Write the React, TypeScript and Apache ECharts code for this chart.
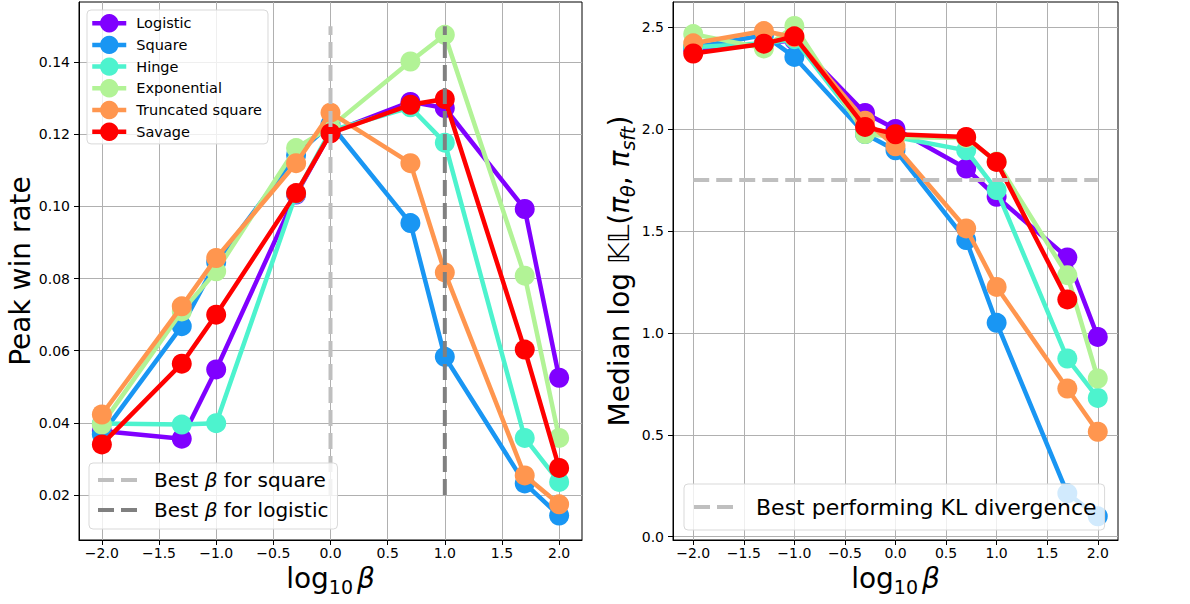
import React, { useEffect, useRef } from "react";
import * as echarts from "echarts";

const FONT = "DejaVu Sans";

// log10(beta) for beta = 0.01, 0.05, 0.1, 0.5, 1, 5, 10, 50, 100
const logBeta = [-2, -1.301, -1, -0.301, 0, 0.699, 1, 1.699, 2];

const seriesNames = ["Logistic", "Square", "Hinge", "Exponential", "Truncated square", "Savage"];
const seriesColors = ["#8000ff", "#1996f3", "#4df3ce", "#b2f396", "#ff964f", "#ff0000"];

// Peak win rate (left panel)
const winLogistic = [0.0377, 0.0356, 0.0548, 0.1033, 0.1205, 0.129, 0.1273, 0.0993, 0.0525];
const winSquare = [0.0368, 0.0668, 0.0845, 0.1143, 0.1228, 0.0954, 0.0583, 0.0232, 0.0143];
const winHinge = [0.0398, 0.0395, 0.0399, 0.1035, 0.121, 0.1275, 0.1177, 0.0358, 0.0236];
const winExponential = [0.0395, 0.0709, 0.082, 0.1162, 0.122, 0.1402, 0.1476, 0.0808, 0.0358];
const winTruncated = [0.0423, 0.0723, 0.0857, 0.112, 0.126, 0.112, 0.0817, 0.0254, 0.0174];
const winSavage = [0.034, 0.0564, 0.07, 0.1037, 0.1203, 0.1282, 0.1298, 0.0603, 0.0275];

// Median log KL (right panel)
const klLogistic = [2.39, 2.42, 2.435, 2.078, 2.0, 1.806, 1.667, 1.37, 0.98];
const klSquare = [2.4, 2.46, 2.353, 1.975, 1.895, 1.455, 1.049, 0.213, 0.1];
const klHinge = [2.4, 2.42, 2.44, 1.99, 1.96, 1.895, 1.7, 0.874, 0.681];
const klExponential = [2.465, 2.395, 2.505, 1.975, 1.96, 1.955, 1.84, 1.283, 0.776];
const klTruncated = [2.42, 2.48, 2.45, 2.04, 1.915, 1.512, 1.225, 0.727, 0.515];
const klSavage = [2.37, 2.418, 2.454, 2.01, 1.974, 1.961, 1.838, 1.164, null];

const winSeries = [winLogistic, winSquare, winHinge, winExponential, winTruncated, winSavage];
const klSeries = [klLogistic, klSquare, klHinge, klExponential, klTruncated, klSavage];

// reference lines
const bestBetaSquare = 0;
const bestBetaLogistic = 1;
const vlineRange = [0.02, 0.15];
const bestKL = 1.75;
const hlineRange = [-2, 2];

// ticks
const xTicks = [-2, -1.5, -1, -0.5, 0, 0.5, 1, 1.5, 2];
const winTicks = [0.02, 0.04, 0.06, 0.08, 0.1, 0.12, 0.14];
const klTicks = [0, 0.5, 1, 1.5, 2, 2.5];

const fmt = (v: number, d: number) => (v < 0 ? "\u2212" + Math.abs(v).toFixed(d) : v.toFixed(d));

export default function App() {
  const ref = useRef<HTMLDivElement>(null);

  useEffect(() => {
    if (!ref.current) return;
    const chart = echarts.init(ref.current, null, { renderer: "svg" });

    const axisCommon = {
      axisLine: { show: true, onZero: false, lineStyle: { color: "#000", width: 1 } },
      axisTick: { show: true, length: 5, inside: false, lineStyle: { color: "#000", width: 1 } },
      splitLine: { show: true, lineStyle: { color: "#b0b0b0", width: 1 } },
    };

    const xName = {
      name: "{a|log}{s|10}{b|β}",
      nameLocation: "middle",
      nameGap: 20,
      nameTextStyle: {
        color: "#000",
        fontFamily: FONT,
        rich: {
          a: { fontSize: 28, lineHeight: 36, fontFamily: FONT, color: "#000" },
          s: { fontSize: 19, lineHeight: 14, verticalAlign: "bottom", fontFamily: FONT, color: "#000" },
          b: { fontSize: 28, lineHeight: 36, fontStyle: "italic", fontFamily: FONT, color: "#000", padding: [0, 0, 0, 4] },
        },
      },
    };

    const makeX = (gridIndex: number) => ({
      type: "value",
      gridIndex,
      min: -2.2,
      max: 2.2,
      ...axisCommon,
      axisTick: { ...axisCommon.axisTick, customValues: xTicks },
      axisLabel: {
        customValues: xTicks,
        formatter: (v: number) => fmt(v, 1),
        fontSize: 14,
        fontFamily: FONT,
        color: "#000",
        margin: 6,
      },
      ...xName,
    });

    const lineSeries = (vals: (number | null)[], i: number, gi: number) => ({
      type: "line",
      name: seriesNames[i],
      xAxisIndex: gi,
      yAxisIndex: gi,
      data: logBeta
        .map((x, k) => (vals[k] == null ? null : [x, vals[k]]))
        .filter((p) => p !== null),
      symbol: "circle",
      symbolSize: 20,
      z: 2 + i,
      lineStyle: { width: 4.5, color: seriesColors[i] },
      itemStyle: { color: seriesColors[i] },
      emphasis: { disabled: true },
      silent: true,
    });

    const dashSeries = (name: string, color: string, gi: number, data: number[][]) => ({
      type: "line",
      name,
      xAxisIndex: gi,
      yAxisIndex: gi,
      data,
      symbol: "none",
      z: 15,
      lineStyle: { width: 4, color, type: [16, 7] },
      itemStyle: { color: "rgba(0,0,0,0)" },
      emphasis: { disabled: true },
      silent: true,
    });

    const legendBox = {
      backgroundColor: "rgba(255,255,255,0.8)",
      borderColor: "#d9d9d9",
      borderWidth: 1,
      borderRadius: 4,
      orient: "vertical",
      selectedMode: false,
      z: 30,
    };

    const option = {
      animation: false,
      backgroundColor: "#fff",
      grid: [
        { left: 79, top: 2, width: 503, height: 538, show: true, borderColor: "#000", borderWidth: 1, containLabel: false, outerBoundsMode: "none" },
        { left: 673, top: 2, width: 445, height: 538, show: true, borderColor: "#000", borderWidth: 1, containLabel: false, outerBoundsMode: "none" },
      ],
      xAxis: [makeX(0), makeX(1)],
      yAxis: [
        {
          type: "value",
          gridIndex: 0,
          min: 0.0075,
          max: 0.1567,
          ...axisCommon,
          axisTick: { ...axisCommon.axisTick, customValues: winTicks },
          axisLabel: {
            customValues: winTicks,
            formatter: (v: number) => fmt(v, 2),
            fontSize: 14,
            fontFamily: FONT,
            color: "#000",
            margin: 9,
          },
          name: "Peak win rate",
          nameLocation: "middle",
          nameRotate: 90,
          nameGap: 44,
          nameTextStyle: { fontSize: 28, fontFamily: FONT, color: "#000" },
        },
        {
          type: "value",
          gridIndex: 1,
          min: -0.016,
          max: 2.6225,
          ...axisCommon,
          axisTick: { ...axisCommon.axisTick, customValues: klTicks },
          axisLabel: {
            customValues: klTicks,
            formatter: (v: number) => fmt(v, 1),
            fontSize: 14,
            fontFamily: FONT,
            color: "#000",
            margin: 9,
          },
          name: "{a|Median log }{k|𝕂𝕃}{a|(}{c|π}{s|θ}{a|, }{c|π}{s|sft}{a|)}",
          nameLocation: "middle",
          nameRotate: 90,
          nameGap: 28,
          nameTextStyle: {
            color: "#000",
            fontFamily: FONT,
            rich: {
              a: { fontSize: 28, lineHeight: 36, fontFamily: FONT, color: "#000" },
              k: { fontSize: 28, lineHeight: 36, fontFamily: FONT, color: "#000" },
              c: { fontSize: 28, lineHeight: 36, fontStyle: "italic", fontFamily: FONT, color: "#000" },
              s: { fontSize: 19, lineHeight: 14, verticalAlign: "bottom", fontStyle: "italic", fontFamily: FONT, color: "#000" },
            },
          },
        },
      ],
      legend: [
        {
          ...legendBox,
          data: seriesNames,
          left: 87,
          top: 10,
          itemWidth: 34,
          itemHeight: 23,
          itemGap: 3.3,
          padding: [4, 6, 3, 3],
          lineStyle: { width: 4.5 },
          textStyle: { fontSize: 14.5, fontFamily: FONT, color: "#000", padding: [0, 0, 0, 5] },
        },
        {
          ...legendBox,
          data: ["Best β for square", "Best β for logistic"],
          left: 89,
          top: 463,
          itemWidth: 40,
          itemHeight: 20,
          itemGap: 10,
          padding: [7, 9, 9, 7],
          lineStyle: { width: 4 },
          formatter: (n: string) => n.replace("β", "{b|β}"),
          textStyle: {
            fontSize: 20,
            fontFamily: FONT,
            color: "#000",
            padding: [0, 0, 0, 11],
            rich: { b: { fontSize: 20, fontStyle: "italic", fontFamily: FONT, color: "#000" } },
          },
        },
        {
          ...legendBox,
          data: ["Best performing KL divergence"],
          left: 684,
          top: 484,
          itemWidth: 40,
          itemHeight: 20,
          padding: [12, 8, 12, 8],
          lineStyle: { width: 4 },
          textStyle: { fontSize: 22, fontFamily: FONT, color: "#000", padding: [0, 0, 0, 17] },
        },
      ],
      series: [
        ...winSeries.map((v, i) => lineSeries(v, i, 0)),
        ...klSeries.map((v, i) => lineSeries(v, i, 1)),
        dashSeries("Best β for square", "#bfbfbf", 0, [
          [bestBetaSquare, vlineRange[0]],
          [bestBetaSquare, vlineRange[1]],
        ]),
        dashSeries("Best β for logistic", "#808080", 0, [
          [bestBetaLogistic, vlineRange[0]],
          [bestBetaLogistic, vlineRange[1]],
        ]),
        dashSeries("Best performing KL divergence", "#bfbfbf", 1, [
          [hlineRange[0], bestKL],
          [hlineRange[1], bestKL],
        ]),
      ],
    };

    chart.setOption(option as any);
    return () => chart.dispose();
  }, []);

  return (
    <div
      ref={ref}
      style={{ position: "fixed", left: 0, top: 0, width: 1190, height: 604, background: "#fff" }}
    />
  );
}
